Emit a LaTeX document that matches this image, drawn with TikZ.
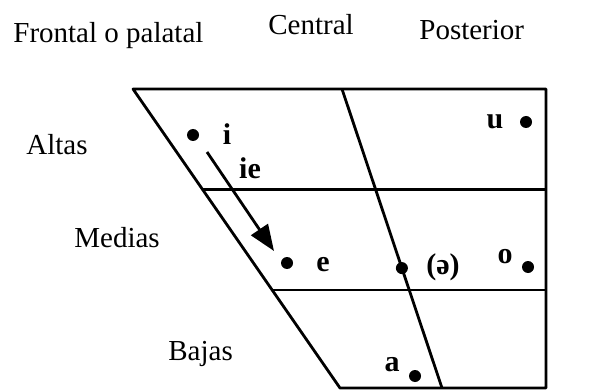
\documentclass[tikz,border=0pt]{standalone}
\usepackage{fontspec}
\setmainfont{Liberation Serif}
\usetikzlibrary{calc, arrows.meta}

\begin{document}
\begin{tikzpicture}[x=1pt, y=-1pt, line width=2.8pt,
    lbl/.style={font=\fontsize{29}{32}\selectfont, anchor=base west, inner sep=0pt},
    vow/.style={font=\bfseries\fontsize{30}{32}\selectfont, inner sep=0pt},
    pt/.style={circle, fill, inner sep=0pt, minimum size=12pt}]
    \useasboundingbox (0,0) rectangle (594,390);

    % Trapezoid
    \coordinate (tl) at (133,89);
    \coordinate (tr) at (546,89);
    \coordinate (br) at (546,388);
    \coordinate (bl) at (340,388);
    \coordinate (ct) at (342,89);
    \coordinate (cb) at (442,388);
    \draw[line join=round] (tl) -- (tr) -- (br) -- (bl) -- cycle;
    \draw ($(tl)!0.335!(bl)$) -- ($(tr)!0.335!(br)$);
    \draw ($(tl)!0.672!(bl)$) -- ($(tr)!0.672!(br)$);
    \draw (ct) -- (cb);

    % Column and row labels
    \node[lbl] (front) at (12,43) {Frontal o palatal};
    \node[lbl] (cent) at (267,35) {Central};
    \node[lbl] (post) at (418,40) {Posterior};
    \node[lbl] (alt) at (25,155) {Altas};
    \node[lbl] (med) at (73,247) {Medias};
    \node[lbl] (baj) at (167,360) {Bajas};

    % Vowels
    \node[pt] (di) at (193,135) {};
    \node[vow] (vi) at (227,134) {i};
    \node[vow] (vie) at (250,168) {ie};
    \node[pt] (du) at (526,122) {};
    \node[vow] (vu) at (495,122) {u};
    \node[pt] (de) at (287,263) {};
    \node[vow] (ve) at (323,265) {e};
    \node[pt] (dc) at ($(ct)!0.599!(cb)$) {};
    \node[vow] (vc) at (443,267) {(ə)};
    \node[vow] (vo) at (505,257) {o};
    \node[pt] (do) at (528,267) {};
    \node[vow] (va) at (392,365) {a};
    \node[pt] (da) at (415,376) {};

    % Diphthong
    \coordinate (s) at (207,152);
    \coordinate (e) at (274,251);
    \draw[-{Triangle[length=26pt, width=20pt]}] (s) -- (e);
\end{tikzpicture}
\end{document}
